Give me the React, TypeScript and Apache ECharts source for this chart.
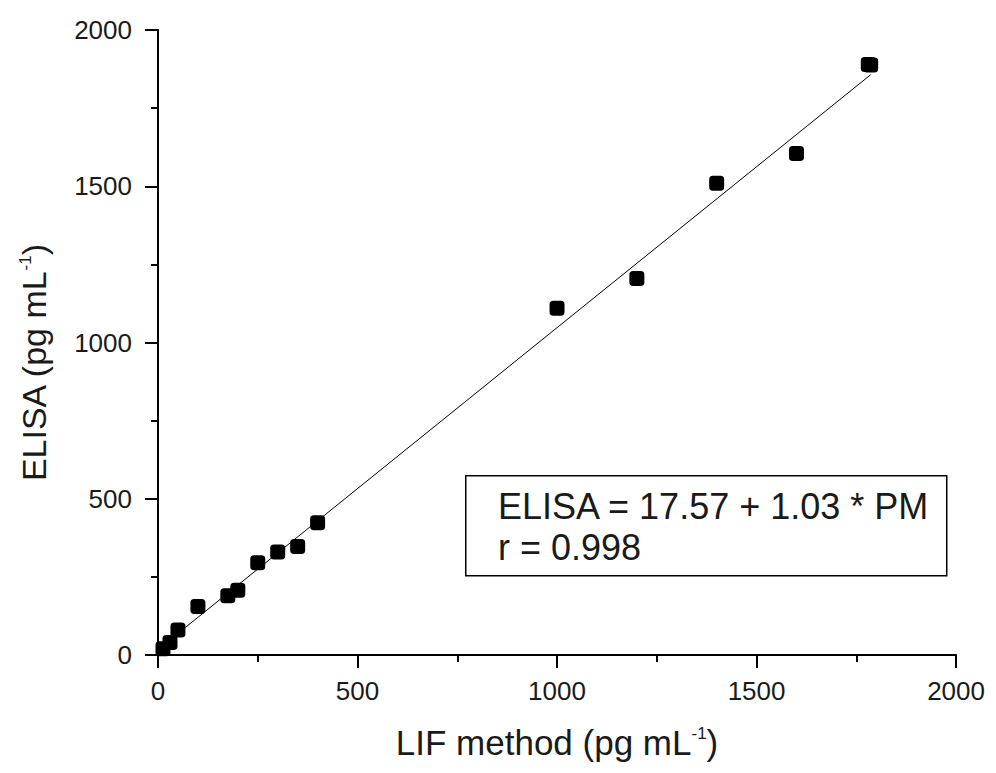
import React, { useEffect, useRef } from "react";
import * as echarts from "echarts";

const lifValues = [12.5, 30, 50, 100, 175, 200, 250, 300, 350, 400, 1000, 1200, 1400, 1600, 1780, 1786];
const elisaValues = [20, 40, 80, 155, 190, 207, 295, 330, 347, 423, 1110, 1205, 1510, 1605, 1890, 1888];
const fitX = [12.5, 1786];
const fitY = [30.4, 1857];
const xTicks = [0, 500, 1000, 1500, 2000];
const yTicks = [0, 500, 1000, 1500, 2000];
const equationLines = ["ELISA = 17.57 + 1.03 * PM", "r = 0.998"];
const xTitle = "{a|LIF method (pg mL}{s|-1}{a|)}";
const yTitle = "{a|ELISA (pg mL}{s|-1}{a|)}";

export default function App() {
  const ref = useRef<HTMLDivElement>(null);
  useEffect(() => {
    if (!ref.current) return;
    const chart = echarts.init(ref.current, null, { renderer: "svg" });
    const font = "Liberation Sans, Arial, sans-serif";
    const txt = "#1a1a1a";
    const axisCommon = {
      axisLine: { show: true, lineStyle: { color: "#000", width: 2 } },
      axisTick: { show: true, inside: false, length: 13, lineStyle: { color: "#000", width: 2 } },
      minorTick: { show: true, splitNumber: 2, length: 7, lineStyle: { color: "#000", width: 2 } },
      splitLine: { show: false },
    };
    const richX = {
      a: { fontFamily: font, fontSize: 35, color: txt },
      s: { fontFamily: font, fontSize: 17, color: txt, verticalAlign: "top", padding: [0, 0, 17, 0] },
    };
    const richY = {
      a: { fontFamily: font, fontSize: 34, color: txt },
      s: { fontFamily: font, fontSize: 17, color: txt, verticalAlign: "top", padding: [0, 0, 16, 0] },
    };
    chart.setOption({
      animation: false,
      backgroundColor: "#fff",
      grid: { left: 150, right: 29, top: 22, bottom: 103, containLabel: false },
      xAxis: {
        type: "value",
        min: xTicks[0],
        max: xTicks[xTicks.length - 1],
        interval: 500,
        ...axisCommon,
        axisLabel: { fontFamily: font, fontSize: 26, color: txt, margin: 23, formatter: (v: number) => String(v) },
        name: xTitle,
        nameLocation: "middle",
        nameGap: 70,
        nameTextStyle: { rich: richX },
      },
      yAxis: {
        type: "value",
        min: yTicks[0],
        max: yTicks[yTicks.length - 1],
        interval: 500,
        ...axisCommon,
        axisLabel: { fontFamily: font, fontSize: 26, color: txt, margin: 26, formatter: (v: number) => String(v) },
      },
      series: [
        {
          type: "line",
          data: fitX.map((x, i) => [x, fitY[i]]),
          symbol: "none",
          lineStyle: { color: "#000", width: 1 },
          z: 2,
        },
        {
          type: "scatter",
          data: lifValues.map((x, i) => [x, elisaValues[i]]),
          symbol: "roundRect",
          symbolSize: 15,
          itemStyle: { color: "#000", opacity: 1 },
          z: 3,
        },
      ],
      graphic: [
        {
          type: "text",
          x: 26,
          y: 355,
          rotation: Math.PI / 2,
          style: {
            text: yTitle,
            rich: richY,
            align: "center",
            verticalAlign: "middle",
            fill: txt,
          },
          z: 11,
        },
        {
          type: "rect",
          left: 457,
          top: 467,
          shape: { width: 481, height: 100 },
          style: { fill: "#fff", stroke: "#000", lineWidth: 1.5 },
          z: 10,
        },
        {
          type: "text",
          left: 490,
          top: 480,
          style: { text: equationLines[0], font: `36px ${font}`, fill: txt },
          z: 11,
        },
        {
          type: "text",
          left: 490,
          top: 521,
          style: { text: equationLines[1], font: `36px ${font}`, fill: txt },
          z: 11,
        },
      ],
    });
    return () => chart.dispose();
  }, []);
  return <div ref={ref} style={{ width: 980, height: 757 }} />;
}
